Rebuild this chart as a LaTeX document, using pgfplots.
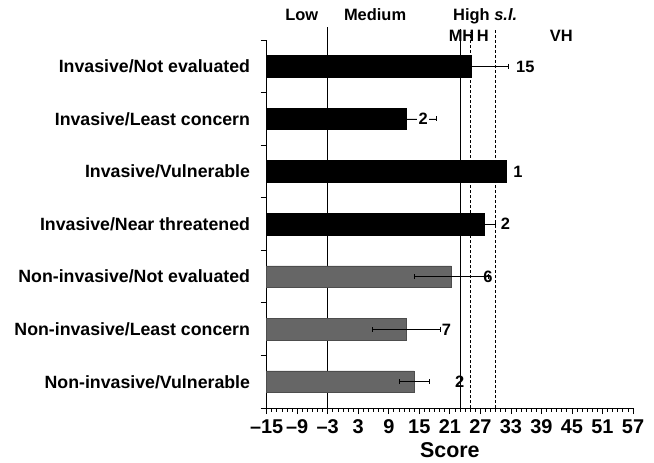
\documentclass[border=0pt]{standalone}
\usepackage{pgfplots}
\pgfplotsset{compat=1.18}
\usepackage{fontspec}
\setmainfont{Liberation Sans}
\definecolor{barGray}{HTML}{666666}
\definecolor{barGrayEdge}{HTML}{4D4D4D}
\begin{document}
\begin{tikzpicture}
\begin{axis}[
  scale only axis, width=366.3bp, height=368bp,
  xmin=-15, xmax=57, ymin=0.5, ymax=7.5,
  x coord trafo/.code={\pgfmathparse{#1+15}},
  x coord inv trafo/.code={\pgfmathparse{#1-15}},
  axis x line*=bottom, axis y line*=left,
  axis line style={line width=0.8bp},
  tick align=outside,
  tick style={line width=0.8bp, black},
  major tick length=6bp, minor tick length=3.5bp,
  xtick={-15,-9,...,57},
  xticklabels={\textendash15,\textendash9,\textendash3,3,9,15,21,27,33,39,45,51,57},
  minor x tick num=5,
  xticklabel style={font=\fontsize{20}{22}\selectfont\bfseries, anchor=base, inner sep=0pt, yshift=-19bp},
  ytick={0.5,1.5,...,7.5}, yticklabels={},
  extra y ticks={1,2,3,4,5,6,7},
  extra y tick labels={Non-invasive/Vulnerable,Non-invasive/Least concern,Non-invasive/Not evaluated,Invasive/Near threatened,Invasive/Vulnerable,Invasive/Least concern,Invasive/Not evaluated},
  extra y tick style={major tick length=0pt,
    yticklabel style={font=\fontsize{17.8}{20}\selectfont\bfseries, anchor=base east, inner sep=0pt, xshift=-16.5bp, yshift=-6.4bp}},
  xlabel={Score},
  xlabel style={font=\fontsize{21.5}{24}\selectfont\bfseries, at={(rel axis cs:0.5,0)}, anchor=base, inner sep=0pt, yshift=-49.5bp},
  clip=false,
  error bars/error bar style={line width=0.6bp, black},
  error bars/error mark options={line width=0.6bp, black, mark size=2.5bp, rotate=90},
]
% reference lines
\addplot[black, line width=0.9bp, forget plot] coordinates {(-3,0.5) (-3,7.75)};
\addplot[black, line width=0.9bp, forget plot] coordinates {(23,0.5) (23,7.7)};
\addplot[black, line width=0.9bp, dash pattern=on 3bp off 2bp, forget plot] coordinates {(25,0.5) (25,7.65)};
\addplot[black, line width=0.9bp, dash pattern=on 3bp off 2bp, forget plot] coordinates {(30,0.5) (30,7.7)};
% invasive (with error bars)
\addplot[xbar, bar width=21.5bp, bar shift=0pt, fill=black, draw=black, line width=0.5bp,
  error bars/.cd, x dir=both, x explicit]
  coordinates {(25.3,7) +- (7.2,0) (12.4,6) +- (6.0,0) (27.7,4) +- (2.2,0)};
% invasive/vulnerable (n = 1, no error bar)
\addplot[xbar, bar width=21.5bp, bar shift=0pt, fill=black, draw=black, line width=0.5bp]
  coordinates {(32.1,5)};
% non-invasive
\addplot[xbar, bar width=21.5bp, bar shift=0pt, fill=barGray, draw=barGrayEdge, line width=0.5bp,
  error bars/.cd, x dir=both, x explicit]
  coordinates {(21.3,3) +- (7.2,0) (12.5,2) +- (6.7,0) (14.0,1) +- (3.0,0)};
% sample sizes
\begin{scope}[every node/.style={font=\fontsize{16.5}{18}\selectfont\bfseries, anchor=base west, inner sep=0pt, yshift=-5.9bp}]
\node at (axis cs:34.0,7) {15};
\node[fill=white, inner xsep=1.2bp] at (axis cs:14.6,6) {2};
\node at (axis cs:33.45,5) {1};
\node at (axis cs:31.0,4) {2};
\node at (axis cs:27.55,3) {6};
\node at (axis cs:19.4,2) {7};
\node at (axis cs:22.0,1) {2};
\end{scope}
% category band labels
\begin{scope}[every node/.style={font=\fontsize{16.5}{18}\selectfont\bfseries, anchor=base, inner sep=0pt}]
\node at (axis cs:-8.1,7.867) {Low};
\node at (axis cs:6.3,7.867) {Medium};
\node at (axis cs:27.95,7.867) {High \textit{s.l.}};
\node at (axis cs:23.3,7.468) {MH};
\node at (axis cs:27.5,7.468) {H};
\node at (axis cs:42.9,7.468) {VH};
\end{scope}
\coordinate (bl) at (rel axis cs:0,0);
\coordinate (tr) at (rel axis cs:1,1);
\end{axis}
\path ([xshift=-266.7bp,yshift=-54bp]bl) rectangle ([xshift=21bp,yshift=40bp]tr);
\end{tikzpicture}
\end{document}
